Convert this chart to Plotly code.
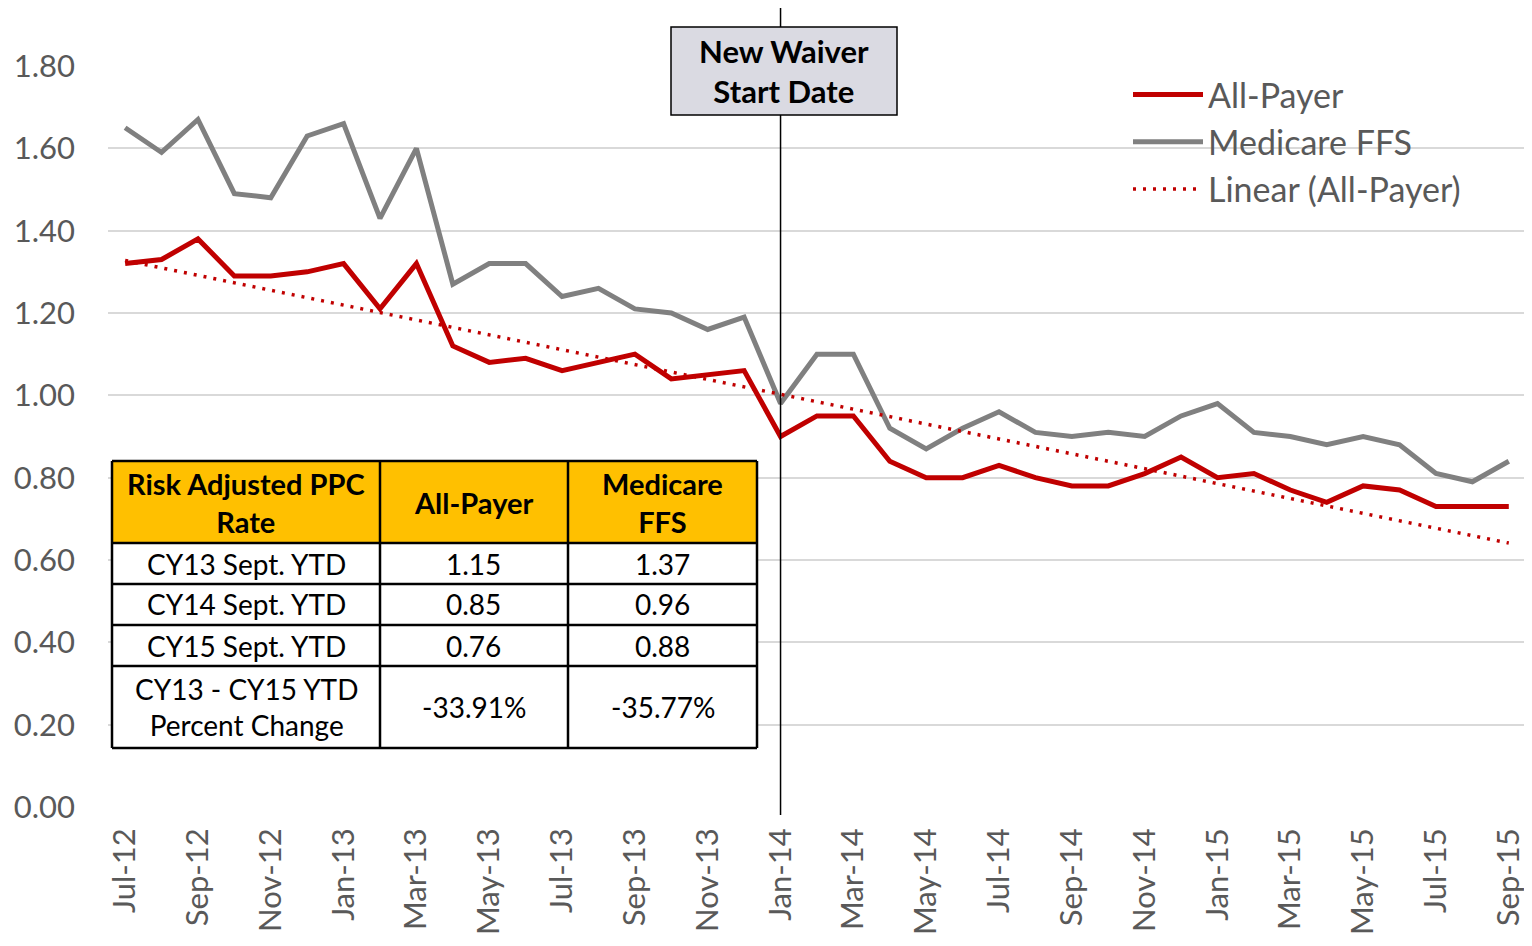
import numpy as np
import plotly.graph_objects as go

months = ["Jul-12","Aug-12","Sep-12","Oct-12","Nov-12","Dec-12","Jan-13","Feb-13","Mar-13","Apr-13",
          "May-13","Jun-13","Jul-13","Aug-13","Sep-13","Oct-13","Nov-13","Dec-13","Jan-14","Feb-14",
          "Mar-14","Apr-14","May-14","Jun-14","Jul-14","Aug-14","Sep-14","Oct-14","Nov-14","Dec-14",
          "Jan-15","Feb-15","Mar-15","Apr-15","May-15","Jun-15","Jul-15","Aug-15","Sep-15"]
all_payer = [1.32,1.33,1.38,1.29,1.29,1.30,1.32,1.21,1.32,1.12,
             1.08,1.09,1.06,1.08,1.10,1.04,1.05,1.06,0.90,0.95,
             0.95,0.84,0.80,0.80,0.83,0.80,0.78,0.78,0.81,0.85,
             0.80,0.81,0.77,0.74,0.78,0.77,0.73,0.73,0.73]
medicare_ffs = [1.65,1.59,1.67,1.49,1.48,1.63,1.66,1.43,1.60,1.27,
                1.32,1.32,1.24,1.26,1.21,1.20,1.16,1.19,0.98,1.10,
                1.10,0.92,0.87,0.92,0.96,0.91,0.90,0.91,0.90,0.95,
                0.98,0.91,0.90,0.88,0.90,0.88,0.81,0.79,0.84]
tick_labels = months[::2]
waiver_month = "Jan-14"

table_header = ["Risk Adjusted PPC<br>Rate", "All-Payer", "Medicare<br>FFS"]
table_rows = ["CY13 Sept. YTD", "CY14 Sept. YTD", "CY15 Sept. YTD", "CY13 - CY15 YTD<br>Percent Change"]
table_all_payer = ["1.15", "0.85", "0.76", "-33.91%"]
table_medicare = ["1.37", "0.96", "0.88", "-35.77%"]

idx = np.arange(len(months))
coef = np.polyfit(idx, all_payer, 1)
trend = np.polyval(coef, idx)

OFF = 8  # page body margin
W, H = 1524, 938
L, R, T, B = 100, 5, 58, 139
PW, PH = W - L - R, H - T - B

def px(x):
    return (x - OFF - L) / PW

def py(y):
    return (H - B - (y - OFF)) / PH

fig = go.Figure()
fig.add_trace(go.Scatter(x=months, y=all_payer, mode="lines", name="All-Payer",
                         line=dict(color="#C00000", width=5)))
fig.add_trace(go.Scatter(x=months, y=medicare_ffs, mode="lines", name="Medicare FFS",
                         line=dict(color="#808080", width=5)))
fig.add_trace(go.Scatter(x=months, y=trend, mode="lines", name="Linear (All-Payer)",
                         line=dict(color="#C00000", width=3.5, dash="3px,7px")))

shapes = []
wi = months.index(waiver_month)
shapes.append(dict(type="line", xref="x", yref="paper", x0=wi, x1=wi, y0=py(815), y1=py(4),
                   line=dict(color="black", width=1.5)))
shapes.append(dict(type="rect", xref="paper", yref="paper", x0=px(671), x1=px(897), y0=py(115), y1=py(27),
                   fillcolor="#DADAE2", line=dict(color="black", width=1.5)))

cols = [112, 380, 568, 757]
rows = [461, 543, 584, 625, 666, 748]
shapes.append(dict(type="rect", xref="paper", yref="paper", x0=px(cols[0]), x1=px(cols[3]),
                   y0=py(rows[1]), y1=py(rows[0]), fillcolor="#FFC000", line=dict(width=0)))
shapes.append(dict(type="rect", xref="paper", yref="paper", x0=px(cols[0]), x1=px(cols[3]),
                   y0=py(rows[-1]), y1=py(rows[1]), fillcolor="white", line=dict(width=0)))
for c in cols:
    shapes.append(dict(type="line", xref="paper", yref="paper", x0=px(c), x1=px(c),
                       y0=py(rows[-1]), y1=py(rows[0]), line=dict(color="black", width=2.5)))
for r in rows:
    shapes.append(dict(type="line", xref="paper", yref="paper", x0=px(cols[0]), x1=px(cols[3]),
                       y0=py(r), y1=py(r), line=dict(color="black", width=2.5)))

annotations = []
annotations.append(dict(xref="paper", yref="paper", x=px(784), y=py(71), text="<b>New Waiver<br>Start Date</b>",
                        showarrow=False, font=dict(family="Lato", size=31, color="black"),
                        xanchor="center", yanchor="middle"))
hfont = dict(family="Lato", size=29, color="black")
tfont = dict(family="Lato", size=28, color="black")
for j, h in enumerate(table_header):
    annotations.append(dict(xref="paper", yref="paper", x=px((cols[j] + cols[j + 1]) / 2),
                            y=py((rows[0] + rows[1]) / 2), text="<b>" + h + "</b>", showarrow=False,
                            font=hfont, xanchor="center", yanchor="middle"))
for i in range(len(table_rows)):
    yc = py((rows[i + 1] + rows[i + 2]) / 2)
    for j, val in enumerate([table_rows[i], table_all_payer[i], table_medicare[i]]):
        annotations.append(dict(xref="paper", yref="paper", x=px((cols[j] + cols[j + 1]) / 2), y=yc,
                                text=val, showarrow=False, font=tfont, xanchor="center", yanchor="middle"))

fig.update_layout(
    width=W, height=H,
    margin=dict(l=L, r=R, t=T, b=B, autoexpand=False),
    plot_bgcolor="white", paper_bgcolor="white",
    shapes=shapes, annotations=annotations,
    showlegend=True,
    legend=dict(x=px(1128), y=py(66), xanchor="left", yanchor="top",
                font=dict(family="Lato", size=34, color="#595959"),
                bgcolor="rgba(0,0,0,0)", itemwidth=70, tracegroupgap=0),
    xaxis=dict(type="category", range=[-0.47, 38.5], tickmode="array", tickvals=tick_labels,
               ticktext=tick_labels, tickangle=-90, showgrid=False, showline=False, zeroline=False,
               ticks="", tickfont=dict(family="Lato", size=31, color="#595959"), ticklabelstandoff=14),
    yaxis=dict(range=[0, 1.8], dtick=0.2, tickformat=".2f", showgrid=True, gridcolor="#D9D9D9",
               gridwidth=1.5, zeroline=False, showline=False, ticks="",
               tickfont=dict(family="Lato", size=31, color="#595959"), ticklabelstandoff=32),
)

fig.write_html("out.html")
